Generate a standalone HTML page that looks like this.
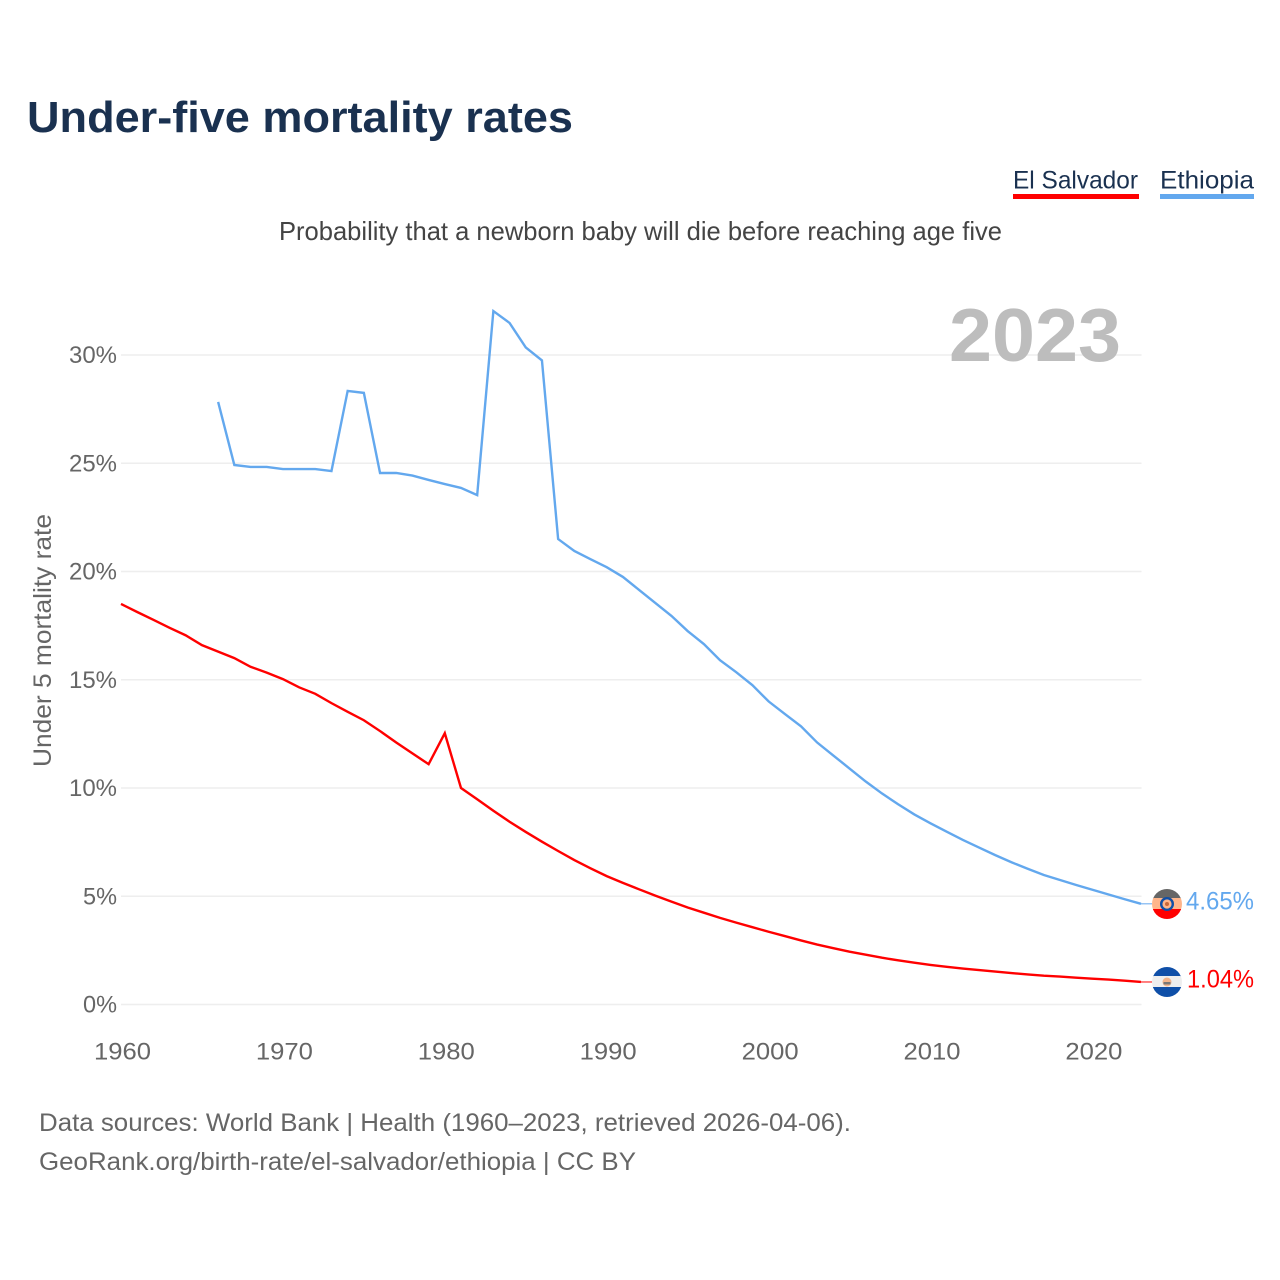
<!DOCTYPE html>
<html lang="en">
<head>
<meta charset="utf-8">
<title>Under-five mortality rates</title>
<style>
html,body{margin:0;padding:0;background:#fff;width:1280px;height:1280px;overflow:hidden}
svg{display:block;font-family:"Liberation Sans",sans-serif}
</style>
</head>
<body>
<svg id="chart" width="1280" height="1280" viewBox="0 0 1280 1280" xmlns="http://www.w3.org/2000/svg">
  <defs>
    <clipPath id="flag-clip-et"><circle cx="1167" cy="904" r="15"/></clipPath>
    <clipPath id="flag-clip-sv"><circle cx="1167" cy="982" r="15"/></clipPath>
  </defs>
  <text x="27" y="132" font-size="44" font-weight="700" fill="#1a3150" textLength="546" lengthAdjust="spacingAndGlyphs">Under-five mortality rates</text>
  <g>
    <text x="1013" y="188.5" font-size="25" fill="#1a3150" textLength="125" lengthAdjust="spacingAndGlyphs">El Salvador</text>
    <rect x="1013" y="194" width="126" height="5" fill="#ff0000"/>
  </g>
  <g>
    <text x="1160" y="188.5" font-size="25" fill="#1a3150" textLength="94" lengthAdjust="spacingAndGlyphs">Ethiopia</text>
    <rect x="1160" y="194" width="94" height="5" fill="#63a8ee"/>
  </g>
  <text x="279" y="240" font-size="26" fill="#444" textLength="723" lengthAdjust="spacingAndGlyphs">Probability that a newborn baby will die before reaching age five</text>
  <g id="grid"></g>
  <text x="949" y="361" font-size="75" font-weight="700" fill="#bdbdbd" textLength="172" lengthAdjust="spacingAndGlyphs">2023</text>
  <g id="yticks"></g>
  <g id="xticks"></g>
  <text transform="translate(51,767) rotate(-90)" x="0" y="0" font-size="25" fill="#666" textLength="253" lengthAdjust="spacingAndGlyphs">Under 5 mortality rate</text>
  <g id="series"></g>
  <g clip-path="url(#flag-clip-et)">
    <rect x="1152" y="889" width="30" height="10" fill="#666"/>
    <rect x="1152" y="898" width="30" height="12" fill="#ffb58a"/>
    <rect x="1152" y="909" width="30" height="10" fill="#ff0000"/>
    <circle cx="1167" cy="904" r="7" fill="#0f4fa8"/>
    <circle cx="1167" cy="904" r="4.6" fill="#ffb58a"/>
    <circle cx="1167" cy="904" r="2" fill="#c8683a"/>
  </g>
  <g clip-path="url(#flag-clip-sv)">
    <rect x="1152" y="967" width="30" height="10" fill="#0f4fa8"/>
    <rect x="1152" y="976" width="30" height="12" fill="#eeeeee"/>
    <rect x="1152" y="987" width="30" height="10" fill="#0f4fa8"/>
    <circle cx="1167" cy="982" r="4.5" fill="#f2b48c"/>
    <rect x="1163.5" y="982" width="7" height="2.5" fill="#777"/>
  </g>
  <text x="1186" y="909.5" font-size="25" fill="#63a8ee" textLength="68" lengthAdjust="spacingAndGlyphs">4.65%</text>
  <text x="1187" y="987.5" font-size="25" fill="#ff0000" textLength="67" lengthAdjust="spacingAndGlyphs">1.04%</text>
  <text x="39" y="1131" font-size="25" fill="#666" textLength="812" lengthAdjust="spacingAndGlyphs">Data sources: World Bank | Health (1960–2023, retrieved 2026-04-06).</text>
  <text x="39" y="1170" font-size="25" fill="#666" textLength="597" lengthAdjust="spacingAndGlyphs">GeoRank.org/birth-rate/el-salvador/ethiopia | CC BY</text>
</svg>
<script>
const NS = 'http://www.w3.org/2000/svg';
const yTickValues = [0, 5, 10, 15, 20, 25, 30];
const xTickValues = [1960, 1970, 1980, 1990, 2000, 2010, 2020];
const salvadorStartYear = 1960;
const salvadorValues = [18.5,18.13,17.77,17.4,17.05,16.6,16.3,16.0,15.6,15.33,15.03,14.65,14.35,13.92,13.52,13.13,12.63,12.1,11.6,11.1,12.53,10.0,9.48,8.95,8.44,7.97,7.52,7.09,6.67,6.29,5.93,5.62,5.32,5.03,4.75,4.48,4.24,4.0,3.78,3.57,3.36,3.16,2.96,2.77,2.6,2.44,2.3,2.16,2.04,1.93,1.83,1.74,1.66,1.59,1.52,1.45,1.39,1.33,1.29,1.24,1.19,1.15,1.10,1.04];
const ethiopiaStartYear = 1966;
const ethiopiaValues = [27.83,24.92,24.83,24.83,24.73,24.73,24.73,24.64,28.34,28.25,24.55,24.55,24.43,24.23,24.04,23.86,23.53,32.03,31.48,30.35,29.75,21.5,20.95,20.57,20.2,19.75,19.15,18.55,17.95,17.25,16.65,15.9,15.35,14.75,14.0,13.42,12.85,12.1,11.5,10.9,10.3,9.75,9.25,8.78,8.37,7.98,7.6,7.25,6.9,6.57,6.27,5.98,5.75,5.52,5.3,5.08,4.86,4.65];

function xScale(year) { return 121 + (year - 1960) * 16.19; }
function yScale(value) { return 1004.5 - value * 21.65; }

function svgEl(tag, attrs, parent) {
  const el = document.createElementNS(NS, tag);
  for (const key in attrs) el.setAttribute(key, attrs[key]);
  parent.appendChild(el);
  return el;
}

const grid = document.getElementById('grid');
const yticks = document.getElementById('yticks');
const xticks = document.getElementById('xticks');
const series = document.getElementById('series');

yTickValues.forEach(function (v) {
  const line = svgEl('line', {x1: 121, x2: 1141.5, y1: yScale(v), y2: yScale(v), stroke: '#eeeeee', 'stroke-width': 1.5}, grid);
  
  
  const label = svgEl('text', {x: 117, y: yScale(v) + 8, 'font-size': 24, fill: '#666', 'text-anchor': 'end', textLength: (String(v).length * 14 + 20), lengthAdjust: 'spacingAndGlyphs'}, yticks);
  label.textContent = v + '%';
  
  
});

xTickValues.forEach(function (year) {
  const label = svgEl('text', {x: xScale(year) + 1.5, y: 1059.5, 'font-size': 24, fill: '#666', 'text-anchor': 'middle', textLength: 57, lengthAdjust: 'spacingAndGlyphs'}, xticks);
  label.textContent = String(year);
  
  
});

function linePoints(startYear, values) {
  return values.map(function (v, i) {
    return xScale(startYear + i).toFixed(2) + ',' + yScale(v).toFixed(2);
  }).join(' ');
}

const salvadorLine = svgEl('polyline', {points: linePoints(salvadorStartYear, salvadorValues), fill: 'none', stroke: '#ff0000', 'stroke-width': 2.4, 'stroke-linejoin': 'miter'}, series);



const ethiopiaLine = svgEl('polyline', {points: linePoints(ethiopiaStartYear, ethiopiaValues), fill: 'none', stroke: '#63a8ee', 'stroke-width': 2.4, 'stroke-linejoin': 'miter'}, series);



const salvadorLast = salvadorValues[salvadorValues.length - 1];
const salvadorLeader = svgEl('line', {x1: xScale(2023), x2: 1152, y1: yScale(salvadorLast), y2: yScale(salvadorLast), stroke: '#ff0000', 'stroke-width': 1}, series);



const ethiopiaLast = ethiopiaValues[ethiopiaValues.length - 1];
const ethiopiaLeader = svgEl('line', {x1: xScale(2023), x2: 1152, y1: yScale(ethiopiaLast), y2: yScale(ethiopiaLast), stroke: '#63a8ee', 'stroke-width': 1}, series);


</script>
</body>
</html>
